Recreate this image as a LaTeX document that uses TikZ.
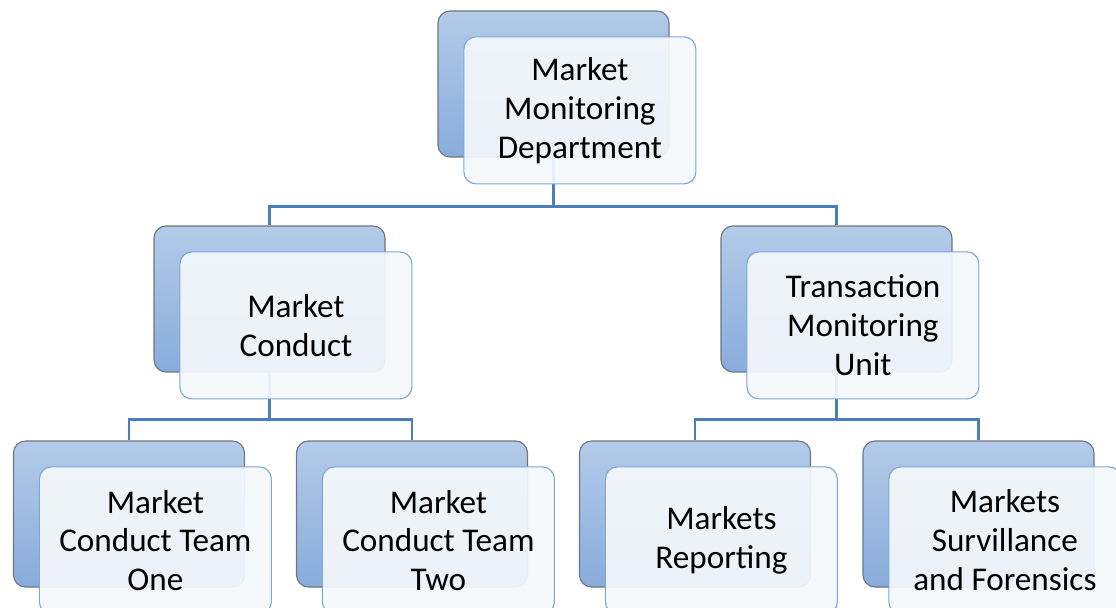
\documentclass[tikz,border=0pt]{standalone}
\usepackage{fontspec}
\setmainfont{Carlito}
\usetikzlibrary{positioning,shadings}

\definecolor{backtop}{RGB}{180,203,233}
\definecolor{backbot}{RGB}{136,172,220}
\definecolor{backline}{RGB}{110,118,128}
\definecolor{frontfill}{RGB}{245,248,252}
\definecolor{frontline}{RGB}{125,167,218}
\definecolor{linkblue}{RGB}{74,126,187}

\begin{document}
\begin{tikzpicture}[back/.style={rectangle, rounded corners=0.3cm, draw=backline, line width=0.8pt, top color=backtop, bottom color=backbot, minimum width=5.775cm, minimum height=3.65cm},
	front/.style={rectangle, rounded corners=0.3cm, draw=frontline, line width=0.8pt, fill=frontfill, fill opacity=0.92, text opacity=1, minimum width=5.8cm, minimum height=3.675cm, align=center, font=\fontsize{23.6}{27.6}\selectfont, xshift=0.66cm, yshift=-0.66cm},
	link/.style={draw=linkblue, line width=1.6pt}]
		\clip (0,0) rectangle (27.9,15.175);
		% back boxes
		\node[back] (mmd) at (13.8375,13.075) {};
		\node[back] (mc) at (6.7375,7.7) {};
		\node[back] (tmu) at (20.9125,7.7) {};
		\node[back] (mct1) at (3.225,2.325) {};
		\node[back] (mct2) at (10.3,2.325) {};
		\node[back] (mr) at (17.375,2.325) {};
		\node[back] (msf) at (24.4625,2.325) {};
		% connectors
		\path[link]
			(mmd.south) -- ++(0,-1.225) -| (mc.north)
			(mmd.south) -- ++(0,-1.225) -| (tmu.north)
			(mc.south) -- ++(0,-1.175) -| (mct1.north)
			(mc.south) -- ++(0,-1.175) -| (mct2.north)
			(tmu.south) -- ++(0,-1.175) -| (mr.north)
			(tmu.south) -- ++(0,-1.175) -| (msf.north);
		% front boxes
		\node[front] (mmdf) at (mmd) {Market\\Monitoring\\Department};
		\node[front] (mcf) at (mc) {Market\\Conduct};
		\node[front] (tmuf) at (tmu) {Transaction\\Monitoring\\Unit};
		\node[front] (mct1f) at (mct1) {Market\\Conduct Team\\One};
		\node[front] (mct2f) at (mct2) {Market\\Conduct Team\\Two};
		\node[front] (mrf) at (mr) {Markets\\Reporting};
		\node[front] (msff) at (msf) {Markets\\Survillance\\and Forensics};
	\end{tikzpicture}
\end{document}
